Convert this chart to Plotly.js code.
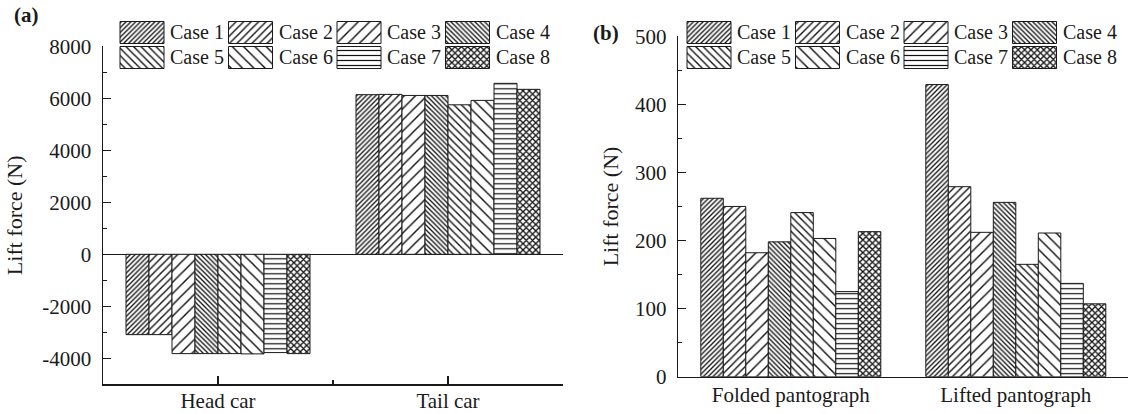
<!DOCTYPE html>
<html><head><meta charset="utf-8">
<script src="https://cdn.plot.ly/plotly-3.0.1.min.js"></script>
<style>html,body{margin:0;padding:0;background:#fff}#chart{width:1137px;height:414px}</style>
</head><body><div id="chart"></div>
<script>
// ---- data ----
const caseNames = ['Case 1','Case 2','Case 3','Case 4','Case 5','Case 6','Case 7','Case 8'];
const carCategories = ['Head car','Tail car'];
const headCar = [-3090,-3090,-3820,-3820,-3820,-3830,-3780,-3820];
const tailCar = [6140,6150,6110,6110,5750,5920,6575,6345];
const pantoCategories = ['Folded pantograph','Lifted pantograph'];
const foldedPanto = [262,250,182,198,241,203,125,213];
const liftedPanto = [429,279,212,256,165,211,137,107];
const yTicksA = [-4000,-2000,0,2000,4000,6000,8000];
const yTicksB = [0,100,200,300,400,500];

// ---- styles ----
const patterns = [
  {shape:'/',  size:3.4, solidity:0.39},
  {shape:'/',  size:5.3, solidity:0.26},
  {shape:'/',  size:8.0, solidity:0.18},
  {shape:'\\', size:3.4, solidity:0.39},
  {shape:'\\', size:5.3, solidity:0.26},
  {shape:'\\', size:8.0, solidity:0.18},
  {shape:'-',  size:5.0, solidity:0.24},
  {shape:'x',  size:4.5, solidity:0.5}
];
const W = 1137, H = 414;
const FONT = 'Liberation Serif, Times New Roman, serif';
const INK = '#1a1a1a';

function marker(i){
  return {color:'white',
    line:{color:INK,width:1},
    pattern:{shape:patterns[i].shape,size:patterns[i].size,solidity:patterns[i].solidity,
             fgcolor:'#111',bgcolor:'white',fgopacity:1,fillmode:'replace'}};
}

const traces = [];
const carX = carCategories.map((c,k)=>k);
const pantoX = pantoCategories.map((c,k)=>k);
caseNames.forEach((name,i)=>{
  traces.push({type:'bar',name:name,x:carX,y:[headCar[i],tailCar[i]],xaxis:'x',yaxis:'y',
    marker:marker(i),showlegend:false,hoverinfo:'skip'});
});
caseNames.forEach((name,i)=>{
  traces.push({type:'bar',name:name,x:pantoX,y:[foldedPanto[i],liftedPanto[i]],xaxis:'x2',yaxis:'y2',
    marker:marker(i),showlegend:false,hoverinfo:'skip'});
});

// ---- custom legends (large swatches) on an overlay subplot in pixel units ----
const legendOrigins = [120, 687];   // left x of first swatch, per panel
const colStep = 108.5, swW = 44, swH = 22, rowTop = [21.5, 46.5];
const annotations = [];
legendOrigins.forEach(x0=>{
  caseNames.forEach((name,i)=>{
    const c = i%4, r = Math.floor(i/4);
    traces.push({type:'bar',x:[x0+c*colStep],y:[swH],base:[rowTop[r]],width:[swW],offset:0,
      xaxis:'x3',yaxis:'y3',marker:marker(i),showlegend:false,hoverinfo:'skip'});
    annotations.push({xref:'x3',yref:'y3',x:x0+c*colStep+swW+4,y:rowTop[r]+swH/2,text:name,
      showarrow:false,xanchor:'left',yanchor:'middle',font:{family:FONT,size:20,color:INK}});
  });
});
annotations.push({xref:'paper',yref:'paper',x:12/W,y:1-15/H,text:'<b>(a)</b>',showarrow:false,
  xanchor:'left',yanchor:'middle',font:{family:FONT,size:21,color:INK}});
annotations.push({xref:'paper',yref:'paper',x:591/W,y:1-33/H,text:'<b>(b)</b>',showarrow:false,
  xanchor:'left',yanchor:'middle',font:{family:FONT,size:21,color:INK}});

const tickFont = {family:FONT,size:21,color:INK};
const titleFont = {family:FONT,size:22,color:INK};
const axLine = {showline:true,linecolor:INK,linewidth:1.5,showgrid:false,zeroline:false,
  tickcolor:INK,tickwidth:1.3,tickfont:tickFont,fixedrange:true};

const layout = {
  width:W,height:H,margin:{l:0,r:0,t:0,b:0},paper_bgcolor:'white',plot_bgcolor:'rgba(0,0,0,0)',
  barmode:'group',bargap:0.2,bargroupgap:0,showlegend:false,
  font:{family:FONT,color:INK},
  xaxis:Object.assign({},axLine,{domain:[103/W,563/W],range:[-0.5,1.5],anchor:'y',
    tickmode:'array',tickvals:carX,ticktext:carCategories,ticks:'inside',ticklen:8,ticklabelstandoff:-3,
    minor:{tickmode:'array',tickvals:[0.5],ticks:'inside',ticklen:4,tickcolor:INK,tickwidth:1.3}}),
  yaxis:Object.assign({},axLine,{domain:[1-384.3/H,1-46.3/H],range:[-5000,8000],anchor:'x',
    tickmode:'array',tickvals:yTicksA,ticktext:yTicksA.map(String),ticks:'inside',ticklen:8,
    zeroline:true,zerolinecolor:INK,zerolinewidth:1.3,ticklabelstandoff:6,
    minor:{dtick:1000,tick0:0,ticks:'inside',ticklen:4,tickcolor:INK,tickwidth:1.3},
    title:{text:'Lift force (N)',font:titleFont,standoff:13}}),
  xaxis2:Object.assign({},axLine,{domain:[678.3/W,1128.3/W],range:[-0.5,1.5],anchor:'y2',
    tickmode:'array',tickvals:pantoX,ticktext:pantoCategories,ticks:'',ticklabelstandoff:-1}),
  yaxis2:Object.assign({},axLine,{domain:[1-376.7/H,1-36.2/H],range:[0,500],anchor:'x2',
    tickmode:'array',tickvals:yTicksB,ticktext:yTicksB.map(String),ticks:'inside',ticklen:8,ticklabelstandoff:6,
    minor:{dtick:50,tick0:0,ticks:'inside',ticklen:4,tickcolor:INK,tickwidth:1.3},
    title:{text:'Lift force (N)',font:titleFont,standoff:10}}),
  xaxis3:{domain:[0,1],range:[0,W],visible:false,fixedrange:true,anchor:'y3'},
  yaxis3:{domain:[1-72/H,1-18/H],range:[72,18],visible:false,fixedrange:true,anchor:'x3'},
  annotations:annotations
};
Plotly.newPlot('chart',traces,layout,{staticPlot:true,displayModeBar:false});
</script></body></html>
